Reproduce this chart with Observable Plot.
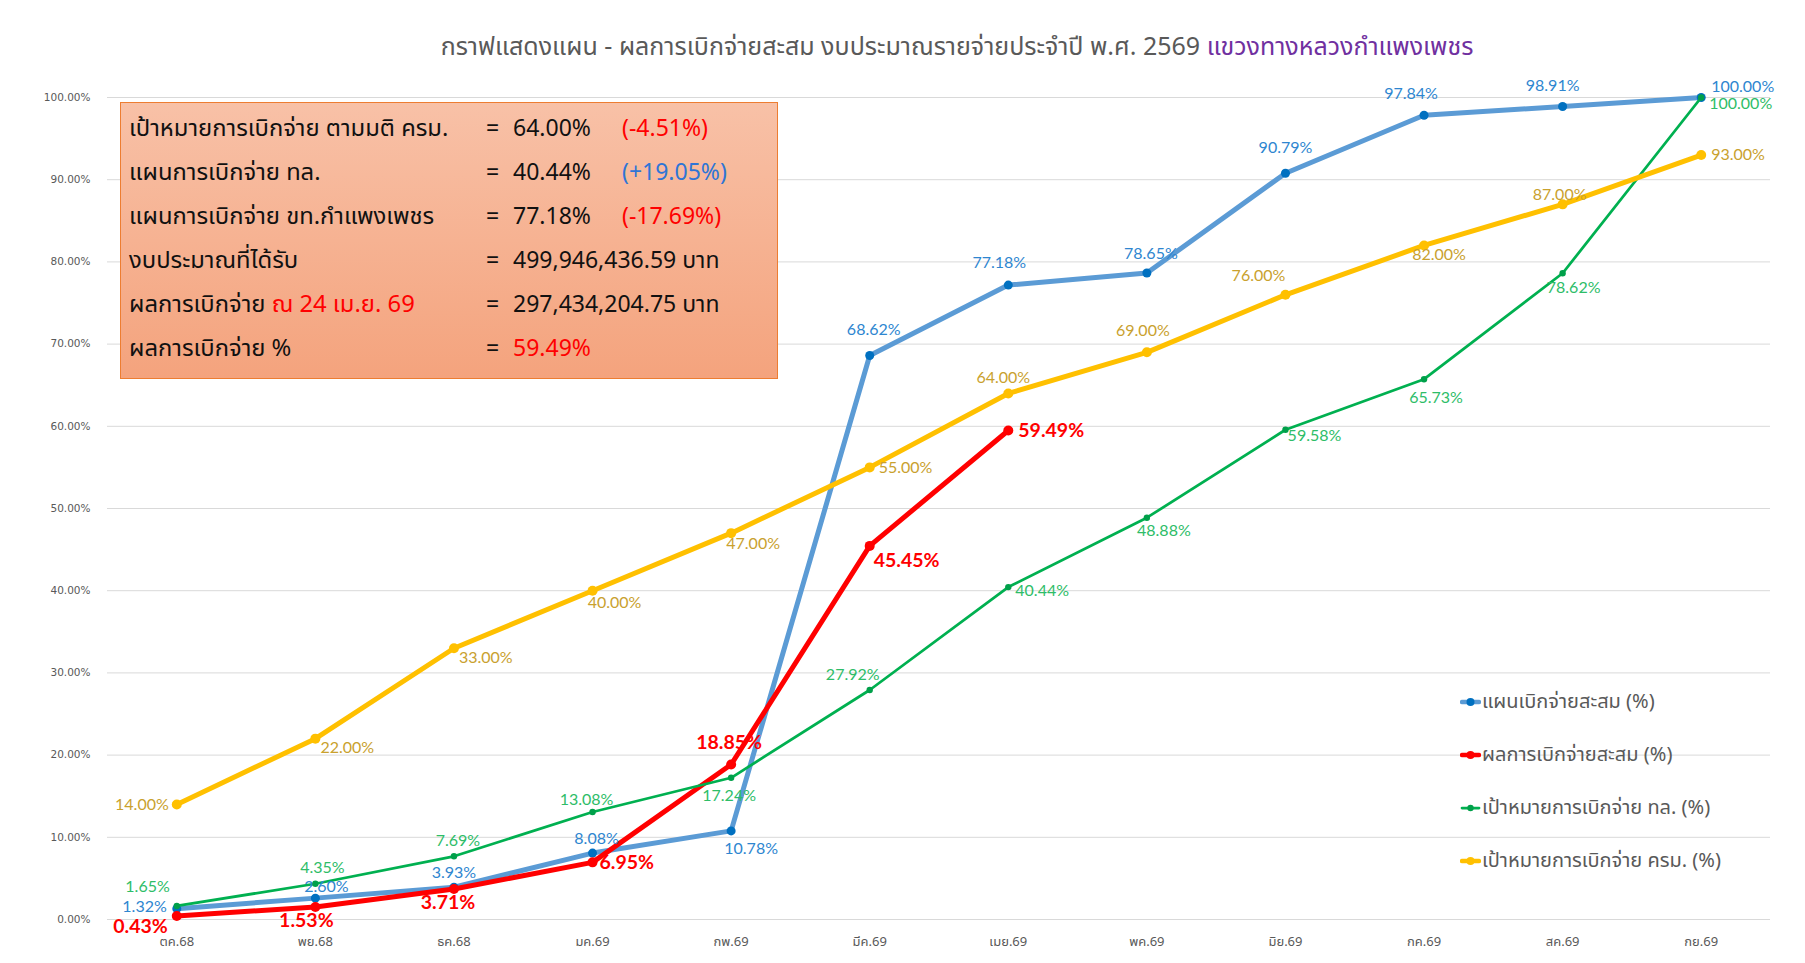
<!DOCTYPE html>
<html><head><meta charset="utf-8">
<script src="https://cdn.jsdelivr.net/npm/d3@7"></script>
<script src="https://cdn.jsdelivr.net/npm/@observablehq/plot@0.6"></script>
<style>
body{margin:0;background:#fff;}
#wrap{position:relative;width:1805px;height:963px;overflow:hidden;font-family:"Noto Sans Thai","Noto Sans","DejaVu Sans",sans-serif;}
#title{position:absolute;top:30px;left:957px;transform:translateX(-50%);white-space:nowrap;font-size:25px;line-height:34px;color:#595959;}
#title .p{color:#7030A0;}
#box{position:absolute;left:120px;top:102px;width:658px;height:277px;box-sizing:border-box;border:1px solid #ED7D31;background:linear-gradient(180deg,#F8C1A7 0%,#F4A37D 100%);}
#box .row{position:absolute;left:0;height:44px;line-height:44px;font-size:23px;color:#111;white-space:nowrap;}
#box .row span{position:absolute;top:0;}
#box .row span.lab{font-size:23.8px;}
.red{color:#FF0000;} .blue{color:#2E75D6;}
#legend{position:absolute;left:1460px;top:688px;font-size:20px;color:#595959;}
#legend .item{position:absolute;left:0;height:28px;line-height:28px;white-space:nowrap;display:flex;align-items:center;}
#legend svg{display:block;margin-right:1px;}
#chart{position:absolute;left:0;top:0;}
</style></head><body>
<div id="wrap"><div id="chart"></div><div id="title"></div><div id="box"></div><div id="legend"></div></div>
<script>
// ---- data ----
const months = ["ตค.68","พย.68","ธค.68","มค.69","กพ.69","มีค.69","เมย.69","พค.69","มิย.69","กค.69","สค.69","กย.69"];
const planCumulative = [1.32, 2.60, 3.93, 8.08, 10.78, 68.62, 77.18, 78.65, 90.79, 97.84, 98.91, 100.00];
const actualCumulative = [0.43, 1.53, 3.71, 6.95, 18.85, 45.45, 59.49];
const targetDOH = [1.65, 4.35, 7.69, 13.08, 17.24, 27.92, 40.44, 48.88, 59.58, 65.73, 78.62, 100.00];
const targetCabinet = [14, 22, 33, 40, 47, 55, 64, 69, 76, 82, 87, 93];
const yTicks = [0,10,20,30,40,50,60,70,80,90,100];
const seriesNames = ["แผนเบิกจ่ายสะสม (%)","ผลการเบิกจ่ายสะสม (%)","เป้าหมายการเบิกจ่าย ทล. (%)","เป้าหมายการเบิกจ่าย ครม. (%)"];
const titleMain = "กราฟแสดงแผน - ผลการเบิกจ่ายสะสม งบประมาณรายจ่ายประจำปี พ.ศ. 2569 ";
const titleUnit = "แขวงทางหลวงกำแพงเพชร";
const boxLabels = ["เป้าหมายการเบิกจ่าย ตามมติ ครม.","แผนการเบิกจ่าย ทล.","แผนการเบิกจ่าย ขท.กำแพงเพชร","งบประมาณที่ได้รับ","ผลการเบิกจ่าย ","ผลการเบิกจ่าย %"];
const boxLabelNotes = ["","","","","ณ 24 เม.ย. 69",""];
const boxValues = ["64.00%","40.44%","77.18%","499,946,436.59 บาท","297,434,204.75 บาท","59.49%"];
const boxDiffs = ["(-4.51%)","(+19.05%)","(-17.69%)","","",""];

// label placement (anchor, dx, dy) per point
const planLabelPos = [["end",-10,-2],["middle",11,-11],["middle",0,-14],["middle",4,-14],["middle",20,18],["middle",4,-26],["middle",-9,-22],["middle",4,-19],["middle",0,-25],["middle",-13,-21],["middle",-10,-21],["start",10,-11]];
const actualLabelPos = [["end",-9,11],["middle",-9,14],["middle",-6,14],["start",7,0],["middle",-2,-22],["start",4,15],["start",10,0]];
const dohLabelPos = [["end",-7,-19],["middle",7,-16],["middle",4,-15],["middle",-6,-12],["middle",-2,18],["middle",-17,-15],["start",7,4],["middle",17,13],["middle",29,6],["middle",12,19],["middle",11,15],["start",8,6]];
const cabLabelPos = [["end",-8,0],["start",5,9],["start",5,10],["middle",22,12],["middle",22,11],["start",9,0],["middle",-5,-16],["middle",-4,-21],["middle",-27,-19],["middle",15,9],["middle",-3,-9],["start",10,0]];

// ---- styles ----
const styles = [
  {vals: planCumulative, pos: planLabelPos, line:"#5B9BD5", lw:5, dot:"#0070C0", r:4.5, label:"#2E86D0", fs:16, fw:"normal"},
  {vals: actualCumulative, pos: actualLabelPos, line:"#FF0000", lw:5, dot:"#FF0000", r:5, label:"#FF0000", fs:19.5, fw:"bold"},
  {vals: targetDOH, pos: dohLabelPos, line:"#00B050", lw:2.75, dot:"#00A04A", r:3.2, label:"#2EBD68", fs:16, fw:"normal"},
  {vals: targetCabinet, pos: cabLabelPos, line:"#FFC000", lw:5, dot:"#FFC000", r:5, label:"#C9A12E", fs:16, fw:"normal"}
];
const toRows = vals => vals.map((v,i)=>({month: months[i], value: v}));

const marks = [
  Plot.gridY(yTicks, {stroke:"#d9d9d9", strokeOpacity:1, strokeWidth:1}),
  Plot.axisY(yTicks, {tickFormat: d => d.toFixed(2)+"%", tickSize:0, tickPadding:17, fontSize:10.5, fill:"#595959", fontFamily:"DejaVu Sans"}),
  Plot.axisX({tickSize:0, tickPadding:17, fontSize:13, fill:"#595959"})
];
for (const s of styles) {
  const rows = toRows(s.vals);
  marks.push(Plot.line(rows, {x:"month", y:"value", stroke:s.line, strokeWidth:s.lw, strokeLinejoin:"round", strokeLinecap:"round"}));
  marks.push(Plot.dot(rows, {x:"month", y:"value", r:s.r, fill:s.dot, stroke:null}));
}
for (const s of styles) {
  toRows(s.vals).forEach((d,i)=>{
    const [anchor,dx,dy] = s.pos[i];
    marks.push(Plot.text([d], {x:"month", y:"value", text: d => d.value.toFixed(2)+"%", textAnchor:anchor, dx, dy, fill:s.label, fontSize:s.fs, fontWeight:s.fw, fontFamily:"Lato, 'Open Sans', sans-serif"}));
  });
}

const chart = Plot.plot({
  width:1805, height:963,
  marginTop:97, marginBottom:44, marginLeft:107, marginRight:35,
  style:{background:"transparent", fontFamily:"'Noto Sans Thai','DejaVu Sans',sans-serif"},
  x:{type:"point", domain:months, padding:0.5, round:false, label:null},
  y:{domain:[0,100], label:null},
  marks
});
document.getElementById("chart").appendChild(chart);

// title
const t = document.getElementById("title");
t.appendChild(document.createTextNode(titleMain));
const tp = document.createElement("span"); tp.className="p"; tp.textContent = titleUnit; t.appendChild(tp);

// info box
const box = document.getElementById("box");
boxLabels.forEach((lab,i)=>{
  const row = document.createElement("div"); row.className="row"; row.style.top = (4 + i*44)+"px"; row.style.width="100%";
  const a = document.createElement("span"); a.className="lab"; a.style.left="8px"; a.textContent = lab;
  if (boxLabelNotes[i]) { const n=document.createElement("span"); n.className="red"; n.style.position="static"; n.textContent=boxLabelNotes[i]; a.appendChild(n); }
  const eq = document.createElement("span"); eq.style.left="365px"; eq.textContent="=";
  const v = document.createElement("span"); v.style.left="392px"; v.textContent=boxValues[i]; if (i===5) v.className="red";
  const df = document.createElement("span"); df.style.left="501px"; df.textContent=boxDiffs[i]; df.className = boxDiffs[i].includes("+") ? "blue" : "red";
  row.append(a,eq,v,df); box.appendChild(row);
});

// legend
const leg = document.getElementById("legend");
styles.forEach((s,i)=>{
  const it = document.createElement("div"); it.className="item"; it.style.top=(i*53)+"px";
  const ns="http://www.w3.org/2000/svg";
  const sv=document.createElementNS(ns,"svg"); sv.setAttribute("width","21"); sv.setAttribute("height","12");
  const ln=document.createElementNS(ns,"line"); ln.setAttribute("x1","2");ln.setAttribute("x2","19");ln.setAttribute("y1","6");ln.setAttribute("y2","6");
  ln.setAttribute("stroke",s.line); ln.setAttribute("stroke-width",Math.min(s.lw,4.5)); ln.setAttribute("stroke-linecap","round");
  const c=document.createElementNS(ns,"circle"); c.setAttribute("cx","10.5");c.setAttribute("cy","6");c.setAttribute("r",Math.min(s.r,4)); c.setAttribute("fill",s.dot);
  sv.append(ln,c);
  const tx=document.createElement("span"); tx.textContent=seriesNames[i];
  it.append(sv,tx); leg.appendChild(it);
});
</script>
</body></html>
